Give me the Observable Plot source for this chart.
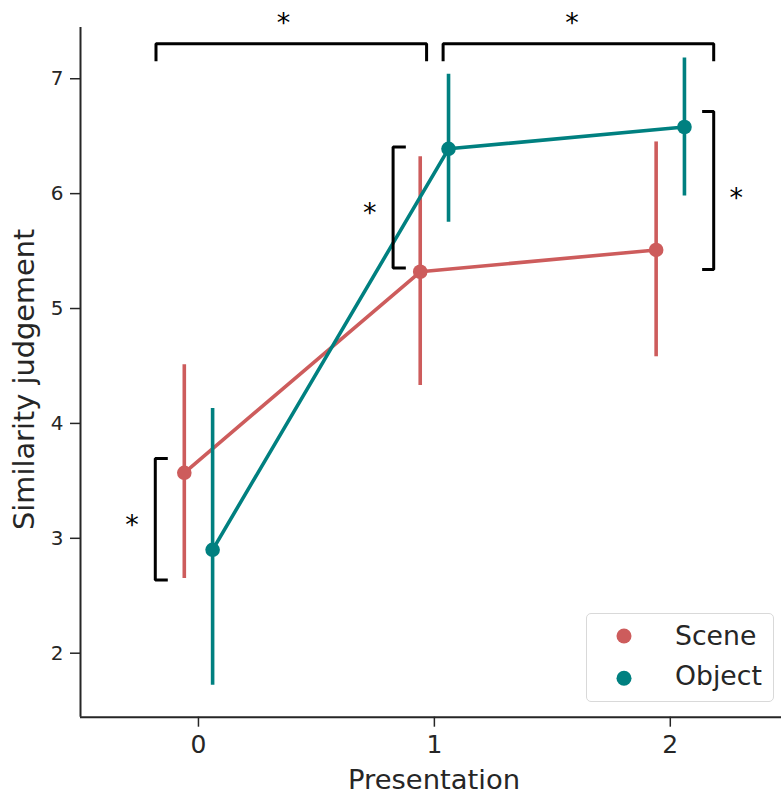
<!DOCTYPE html>
<html>
<head>
<meta charset="utf-8">
<script src="https://cdn.jsdelivr.net/npm/d3@7"></script>
<script src="https://cdn.jsdelivr.net/npm/@observablehq/plot@0.6"></script>
<style>
  html, body { margin: 0; padding: 0; background: #fff; }
  #wrap { position: relative; width: 781px; height: 798px; overflow: hidden; font-family: "DejaVu Sans", sans-serif; }
  #legend { position: absolute; left: 586px; top: 613px; width: 188px; height: 89px; box-sizing: border-box;
    border: 1.5px solid #d9d9d9; border-radius: 5px; background: rgba(255,255,255,0.85); }
</style>
</head>
<body>
<div id="wrap"></div>
<script>
// ---- data ----
const presentations = [0, 1, 2];
const seriesNames = ["Scene", "Object"];
const seriesColors = ["#cd5c5c", "#008080"];
const sceneMean = [3.57, 5.32, 5.51];
const sceneLow  = [2.65, 4.33, 4.58];
const sceneHigh = [4.51, 6.32, 6.45];
const objectMean = [2.90, 6.39, 6.58];
const objectLow  = [1.72, 5.75, 5.98];
const objectHigh = [4.13, 7.04, 7.18];
const yTicks = [2, 3, 4, 5, 6, 7];
const xTicks = [0, 1, 2];
// significance annotations (data coordinates)
const brackets = [
  {id: "top1", pts: [[-0.18, 7.153], [-0.18, 7.305], [0.967, 7.305], [0.967, 7.153]]},
  {id: "top2", pts: [[1.037, 7.153], [1.037, 7.305], [2.184, 7.305], [2.184, 7.153]]},
  {id: "mid",  pts: [[0.879, 6.405], [0.825, 6.405], [0.825, 5.352], [0.879, 5.352]]},
  {id: "left", pts: [[-0.130, 3.695], [-0.183, 3.695], [-0.183, 2.637], [-0.130, 2.637]]},
  {id: "right",pts: [[2.135, 6.715], [2.184, 6.715], [2.184, 5.340], [2.135, 5.340]]}
];
const stars = [
  {x: 0.36, y: 7.53}, {x: 1.583, y: 7.53}, {x: 0.726, y: 5.877},
  {x: -0.282, y: 3.168}, {x: 2.280, y: 6.013}
];
const dodge = [-0.06, 0.06];

// ---- build tables ----
const means = [sceneMean, objectMean], lows = [sceneLow, objectLow], highs = [sceneHigh, objectHigh];
const rows = [];
seriesNames.forEach((s, si) => presentations.forEach((p, i) => rows.push({
  series: s, x: p + dodge[si], mean: means[si][i], lo: lows[si][i], hi: highs[si][i]
})));
const bracketRows = brackets.flatMap(b => b.pts.map(([x, y]) => ({id: b.id, x, y})));

const xDomain = [-0.5, 2.5], yDomain = [1.443, 7.446];
const ink = "#262626";

const seriesMarks = seriesNames.flatMap((s, si) => {
  const d = rows.filter(r => r.series === s);
  return [
    Plot.ruleX(d, {x: "x", y1: "lo", y2: "hi", stroke: seriesColors[si], strokeWidth: 3.6}),
    Plot.line(d, {x: "x", y: "mean", stroke: seriesColors[si], strokeWidth: 3.6}),
    Plot.dot(d, {x: "x", y: "mean", r: 7.3, fill: seriesColors[si], stroke: "none"})
  ];
});

const chart = Plot.plot({
  width: 781, height: 798,
  marginLeft: 80, marginRight: 0, marginTop: 27, marginBottom: 81.3,
  style: {fontFamily: "DejaVu Sans", color: ink, background: "white", overflow: "visible"},
  x: {domain: xDomain, range: [80, 787.75]},
  y: {domain: yDomain, range: [716.7, 27]},
  marks: [
    Plot.ruleX([xDomain[0]], {y1: yDomain[0], y2: yDomain[1], stroke: ink, strokeWidth: 2}),
    Plot.ruleY([yDomain[0]], {x1: xDomain[0], x2: xDomain[1], stroke: ink, strokeWidth: 2}),
    Plot.axisY(yTicks, {tickSize: 10, tickPadding: 7, fontSize: 20, stroke: ink, strokeWidth: 1.5, label: null, tickFormat: d => String(d)}),
    Plot.axisX(xTicks, {tickSize: 10, tickPadding: 8, fontSize: 25, stroke: ink, strokeWidth: 1.5, label: null, tickFormat: d => String(d)}),
    ...seriesMarks,
    Plot.line(bracketRows, {x: "x", y: "y", z: "id", stroke: "black", strokeWidth: 3, strokeLinejoin: "miter", strokeLinecap: "butt"}),
    Plot.text(stars, {x: "x", y: "y", text: () => "*", fontSize: 27, fill: "black", lineAnchor: "middle", dy: 6}),
    Plot.text(["Presentation"], {frameAnchor: "bottom", text: d => d, fontSize: 27.4, fill: ink, lineAnchor: "middle", dy: 63, dx: 3}),
    Plot.text(["Similarity judgement"], {frameAnchor: "left", textAnchor: "middle", text: d => d, fontSize: 28.8, fill: ink, rotate: -90, lineAnchor: "middle", dx: -56, dy: 7})
  ]
});

const wrap = document.getElementById("wrap");
wrap.appendChild(chart);

// legend
const legend = document.createElement("div");
legend.id = "legend";
const ns = "http://www.w3.org/2000/svg";
const lsvg = document.createElementNS(ns, "svg");
lsvg.setAttribute("width", 188); lsvg.setAttribute("height", 89);
lsvg.style.position = "absolute"; lsvg.style.left = "-1.5px"; lsvg.style.top = "-1.5px";
seriesNames.forEach((s, i) => {
  const c = document.createElementNS(ns, "circle");
  c.setAttribute("cx", 38); c.setAttribute("cy", 23 + i * 42.3); c.setAttribute("r", 7.5);
  c.setAttribute("fill", seriesColors[i]);
  lsvg.appendChild(c);
  const t = document.createElementNS(ns, "text");
  t.setAttribute("x", 89); t.setAttribute("y", 32 + i * 40);
  t.setAttribute("font-size", 26.7); t.setAttribute("font-family", "DejaVu Sans");
  t.setAttribute("fill", ink);
  t.textContent = s;
  lsvg.appendChild(t);
});
legend.appendChild(lsvg);
wrap.appendChild(legend);
</script>
</body>
</html>
